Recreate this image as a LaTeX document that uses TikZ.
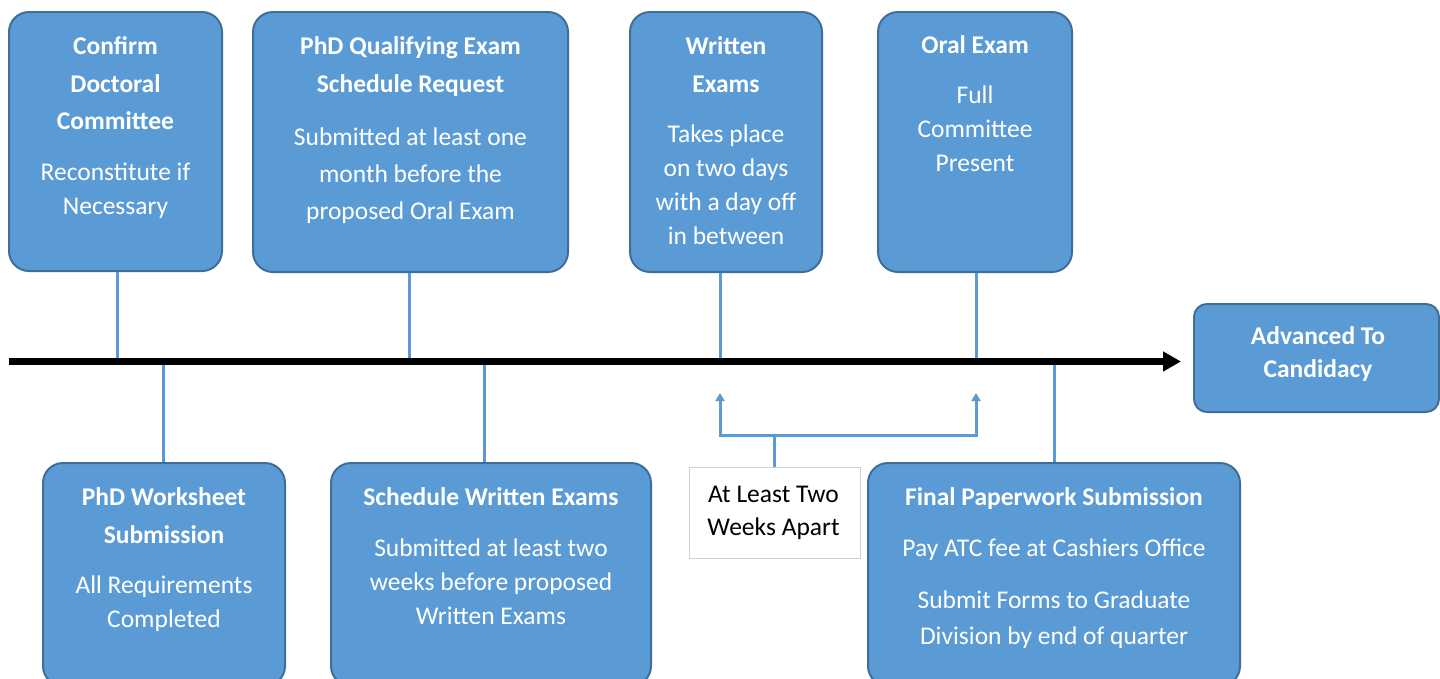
\documentclass[tikz,border=0pt]{standalone}
\usepackage{fontspec}
\setmainfont{Carlito}
\usetikzlibrary{arrows.meta}

\definecolor{boxfill}{HTML}{5B9BD5}
\definecolor{boxline}{HTML}{3F6E99}
\definecolor{tagline}{HTML}{D0D0D0}

\begin{document}
\begin{tikzpicture}[x=1pt, y=-1pt,
  stage/.style={draw=boxline, line width=2pt, fill=boxfill,
    rounded corners=20pt, inner sep=0pt},
  tag/.style={draw=tagline, line width=1pt, fill=white, inner sep=0pt},
  head/.style={text=white, align=center, inner sep=0pt, anchor=north,
    font=\fontsize{25.5}{37.5}\selectfont\bfseries},
  body/.style={text=white, align=center, inner sep=0pt, anchor=north,
    font=\fontsize{25.5}{34}\selectfont},
  link/.style={draw=boxfill, line width=3pt},
  axis/.style={draw=black, line width=6.5pt, -{Triangle[width=19pt,length=18pt]}},
  tip/.style={-{Triangle[width=9pt,length=8pt]}}]

\useasboundingbox (0,0) rectangle (1440,678);
\clip (0,0) rectangle (1440,678);
\fill[white] (0,0) rectangle (1440,678);

% points where the stage lines meet the time axis
\coordinate (axL) at (9,361.5);
\coordinate (k1) at (117,361);
\coordinate (k2) at (409,361);
\coordinate (k3) at (720,361);
\coordinate (k4) at (976,361);
\coordinate (k6) at (163,361);
\coordinate (k7) at (484,361);
\coordinate (k9) at (1054,361);
\coordinate (tipL) at (720,393);
\coordinate (tipR) at (976,393);

% stages above the axis
\node[stage, minimum width=213, minimum height=259] (b1) at (115.5,141.5) {};
\node[stage, minimum width=315, minimum height=260] (b2) at (410.5,142) {};
\node[stage, minimum width=192, minimum height=260] (b3) at (726,142) {};
\node[stage, minimum width=194, minimum height=260] (b4) at (975,142) {};
% goal at the end of the axis
\node[stage, rounded corners=13pt, minimum width=245, minimum height=108] (b5) at (1316.5,358) {};
% stages below the axis
\node[stage, minimum width=242, minimum height=223] (b6) at (164,574.5) {};
\node[stage, minimum width=320, minimum height=223] (b7) at (491,574.5) {};
\node[stage, minimum width=372, minimum height=223] (b9) at (1054,574.5) {};
% note on the spacing of the exams
\node[tag, minimum width=171, minimum height=91] (b8) at (774.5,512.5) {};

% texts
\node[head] (t1) at ([yshift=-17.5pt]b1.north) {\strut Confirm\\Doctoral\\Committee\strut};
\node[body] (s1) at ([yshift=-15pt]t1.south) {\strut Reconstitute if\\Necessary\strut};

\node[head] (t2) at ([yshift=-17.5pt]b2.north) {\strut PhD Qualifying Exam\\Schedule Request\strut};
\node[body, font=\fontsize{25.5}{37}\selectfont] (s2) at ([yshift=-15pt]t2.south)
  {\strut Submitted at least one\\month before the\\proposed Oral Exam\strut};

\node[head] (t3) at ([yshift=-17.5pt]b3.north) {\strut Written\\Exams\strut};
\node[body] (s3) at ([yshift=-15pt]t3.south)
  {\strut Takes place\\on two days\\with a day off\\in between\strut};

\node[head] (t4) at ([yshift=-16pt]b4.north) {\strut Oral Exam};
\node[body] (s4) at ([yshift=-15pt]t4.south) {\strut Full\\Committee\\Present\strut};

\node[head, font=\fontsize{25.5}{33}\selectfont\bfseries] (t5) at (1318,321.5)
  {\strut Advanced To\\Candidacy\strut};

\node[head] (t6) at ([yshift=-17.5pt]b6.north) {\strut PhD Worksheet\\Submission\strut};
\node[body] (s6) at ([yshift=-15pt]t6.south) {\strut All Requirements\\Completed\strut};

\node[head] (t7) at ([yshift=-17.5pt]b7.north) {\strut Schedule Written Exams};
\node[body] (s7) at ([yshift=-15pt]t7.south)
  {\strut Submitted at least two\\weeks before proposed\\Written Exams\strut};

\node[head] (t9) at ([yshift=-17.5pt]b9.north) {\strut Final Paperwork Submission};
\node[body] (s9) at ([yshift=-15pt]t9.south) {\strut Pay ATC fee at Cashiers Office};
\node[body, font=\fontsize{25.5}{36}\selectfont] (u9) at ([yshift=-16pt]s9.south)
  {\strut Submit Forms to Graduate\\Division by end of quarter\strut};

\node[body, text=black, font=\fontsize{25.5}{33}\selectfont] (t8) at (773.5,479.5)
  {\strut At Least Two\\Weeks Apart\strut};

% stage lines to the axis
\draw[link] (b1.south -| k1) -- (k1);
\draw[link] (b2.south -| k2) -- (k2);
\draw[link] (b3.south -| k3) -- (k3);
\draw[link] (b4.south -| k4) -- (k4);
\draw[link] (k6) -- (b6.north -| k6);
\draw[link] (k7) -- (b7.north -| k7);
\draw[link] (k9) -- (b9.north -| k9);

% bracket from the note up to the two exam dates
\draw[link, tip] (b8.north) -- ++(0,-31) -| (tipL);
\draw[link, tip] (b8.north) -- ++(0,-31) -| (tipR);

% time axis
\draw[axis] (axL) -- ([xshift=-12pt,yshift=-3.5pt]b5.west);
\end{tikzpicture}
\end{document}
